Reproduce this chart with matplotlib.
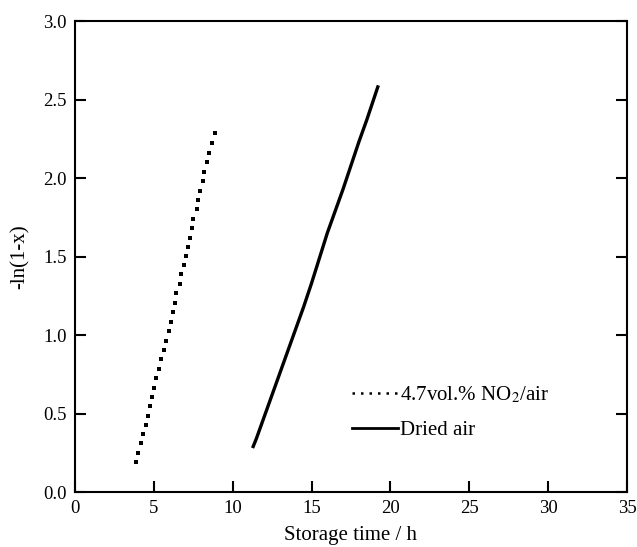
import numpy as np
import matplotlib.pyplot as plt
from matplotlib.lines import Line2D

plt.rcParams['font.family'] = ['Liberation Serif', 'DejaVu Serif']
plt.rcParams['mathtext.fontset'] = 'stix'

# 4.7 vol.% NO2/air (dotted points)
no2_t = [3.85, 4.01, 4.17, 4.29, 4.50, 4.61, 4.74, 4.88, 5.03, 5.16, 5.33, 5.45,
         5.62, 5.77, 5.94, 6.09, 6.24, 6.34, 6.42, 6.68, 6.74, 6.89, 7.04,
         7.14, 7.27, 7.42, 7.50, 7.71, 7.78, 7.95, 8.10, 8.16, 8.39, 8.52, 8.69, 8.88]
no2_y = [0.190, 0.246, 0.310, 0.367, 0.427, 0.486, 0.545, 0.605, 0.664, 0.724, 0.785, 0.845,
         0.904, 0.964, 1.025, 1.085, 1.145, 1.206, 1.266, 1.325, 1.387, 1.446, 1.505,
         1.560, 1.620, 1.680, 1.740, 1.800, 1.860, 1.920, 1.980, 2.040, 2.100, 2.160, 2.220, 2.285]

# dried air (solid)
air_t = [11.30, 11.50, 12.00, 12.50, 13.00, 13.50, 14.00, 14.50, 15.00, 15.50,
         16.00, 16.50, 17.00, 17.50, 18.00, 18.50, 19.00, 19.20]
air_y = [0.29, 0.34, 0.48, 0.62, 0.76, 0.90, 1.04, 1.18, 1.33, 1.49,
         1.65, 1.79, 1.93, 2.08, 2.23, 2.37, 2.52, 2.58]

xticks = [0, 5, 10, 15, 20, 25, 30, 35]
yticks = [0.0, 0.5, 1.0, 1.5, 2.0, 2.5, 3.0]

fig = plt.figure(figsize=(6.37, 5.47), dpi=100)
ax = fig.add_axes([0.1177, 0.1005, 0.8666, 0.8611])

ax.plot(no2_t, no2_y, ls='none', marker='s', ms=2.2, color='black', mew=0)
ax.plot(air_t, air_y, '-', color='black', lw=2.4)

ax.set_xlim(0, 35)
ax.set_ylim(0, 3.0)
ax.set_xticks(xticks)
ax.set_yticks(yticks)
ax.set_yticklabels(['%.1f' % v for v in yticks])
ax.tick_params(direction='in', length=8, width=1.5, labelsize=13.5,
               left=True, bottom=True, right=True, top=False, pad=6)
for s in ax.spines.values():
    s.set_linewidth(1.5)

ax.set_xlabel('Storage time / h', fontsize=15, labelpad=6)
ax.set_ylabel('-ln(1-x)', fontsize=15, labelpad=10)

handles = [Line2D([], [], color='black', ls=(0, (1, 2.4)), lw=1.8),
           Line2D([], [], color='black', ls='-', lw=2.0)]
ax.legend(handles, ['4.7vol.% NO$_2$/air', 'Dried air'], loc='lower left',
          bbox_to_anchor=(0.468, 0.07), frameon=False, fontsize=15,
          handlelength=2.2, handletextpad=0.1, labelspacing=0.75)

fig.savefig('out.png', dpi=100)
